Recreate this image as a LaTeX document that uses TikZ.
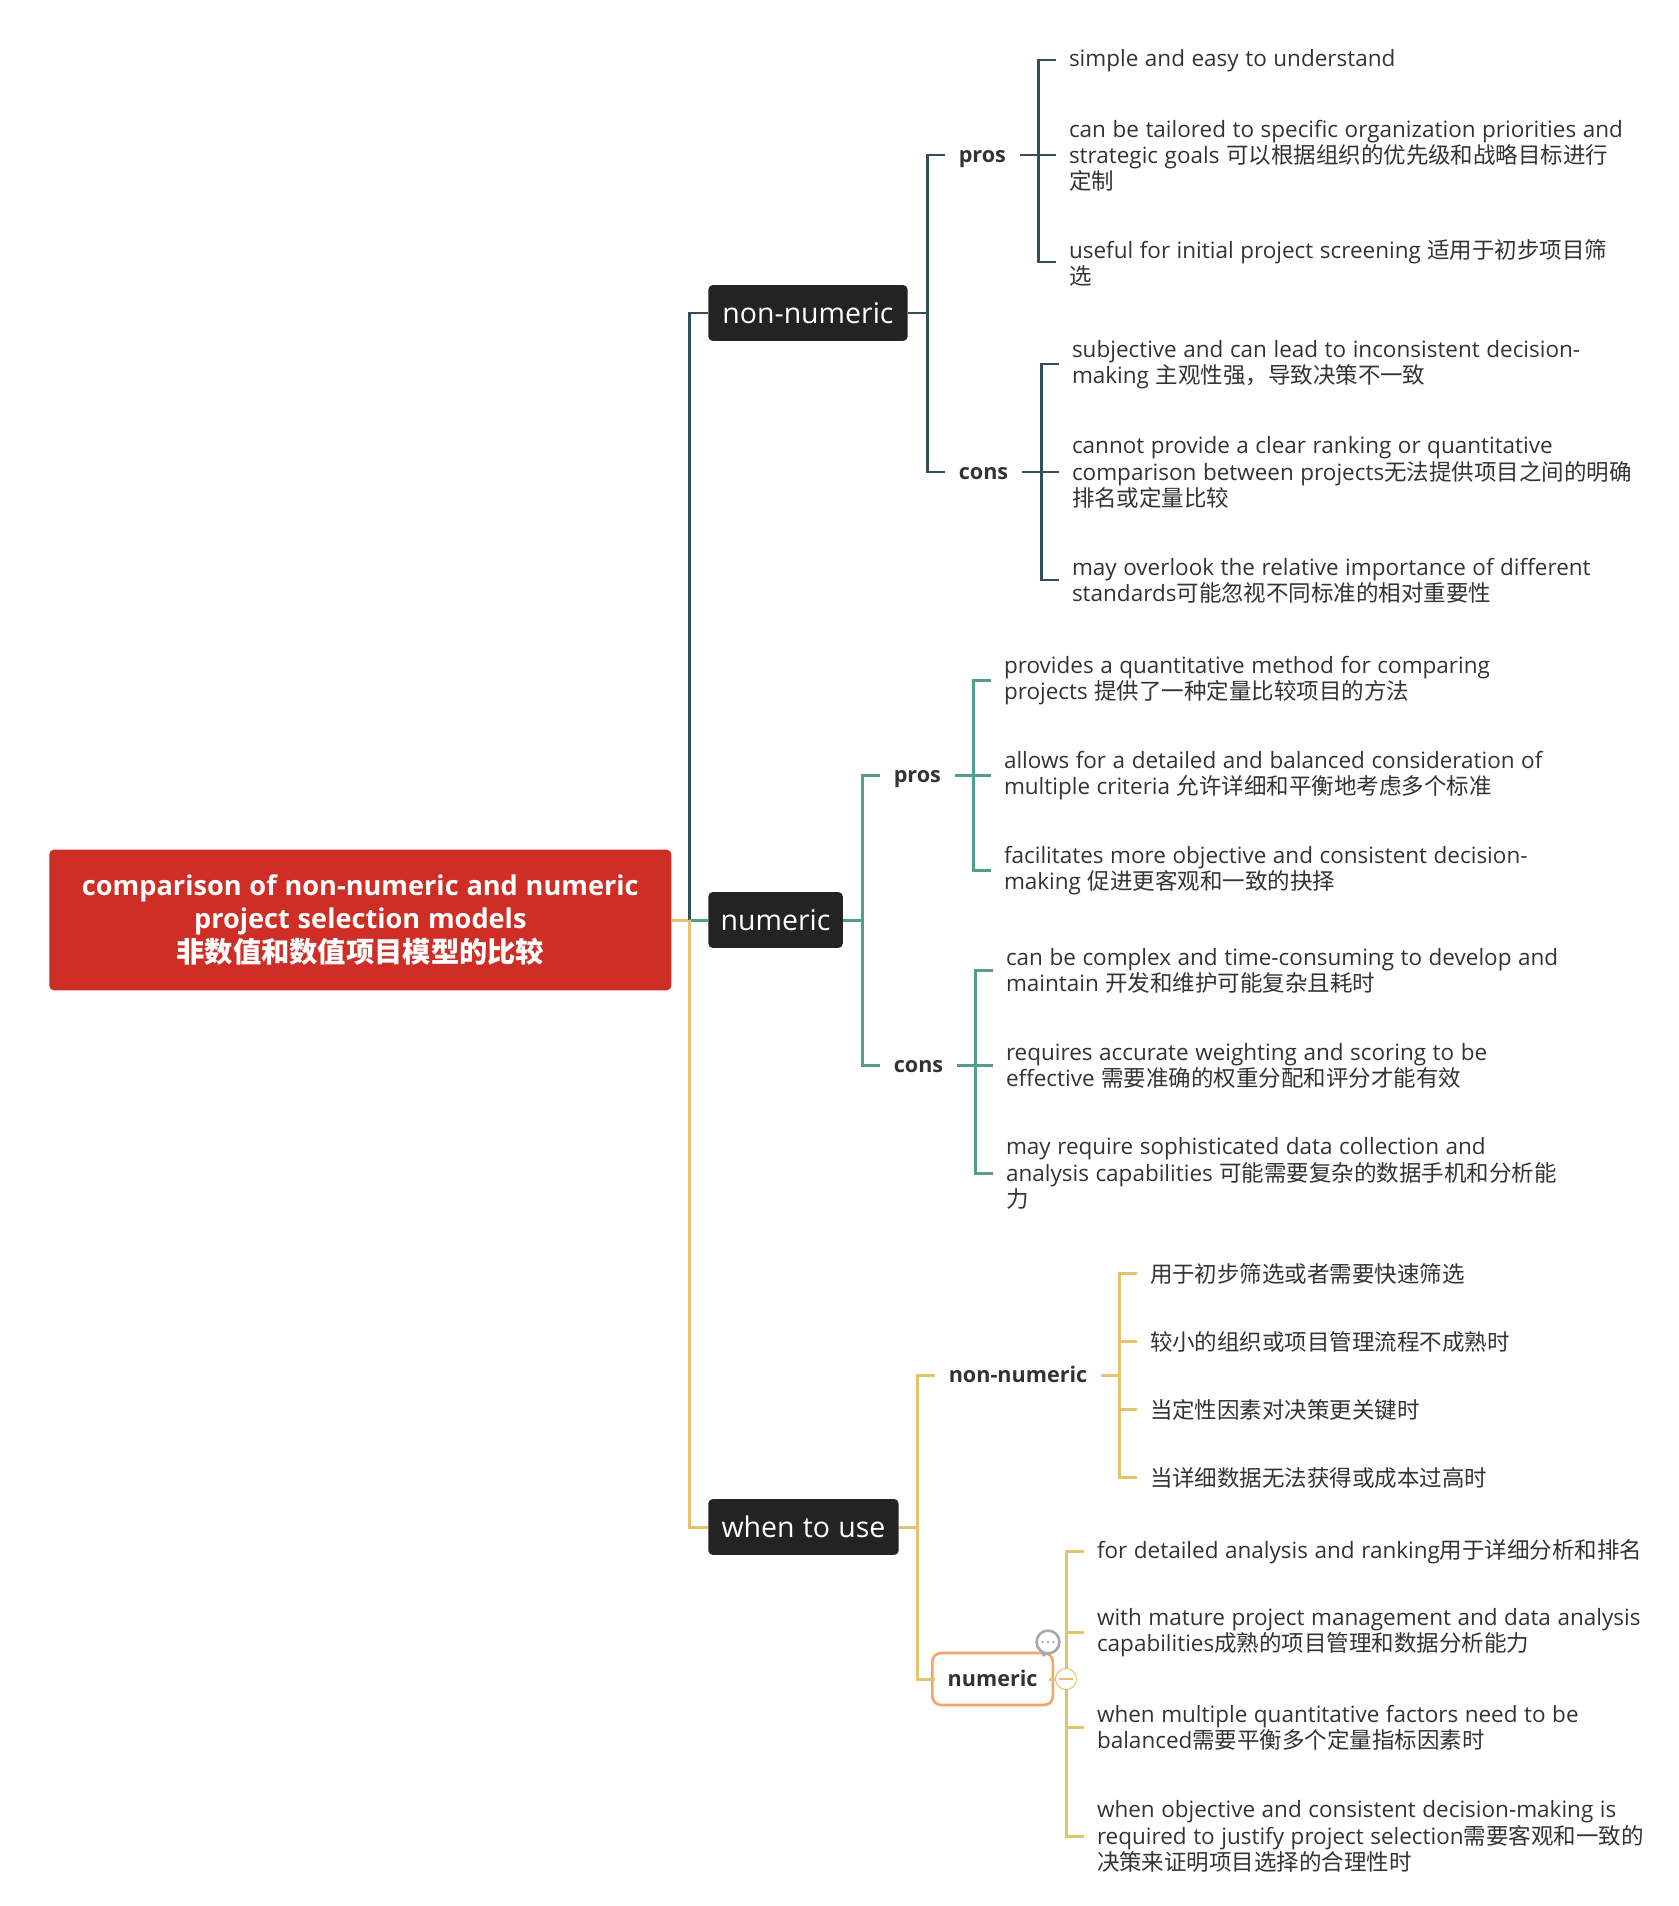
\documentclass[tikz,border=0pt]{standalone}
\usepackage{fontspec}
\setmainfont[WordSpace=1.12]{Open Sans}
\newfontfamily\cjk{Noto Sans CJK SC}
\newfontfamily\heavy[Scale=0.96,WordSpace=1.1]{Open Sans}
\newcommand{\zh}[1]{{\cjk #1}}
\usepackage{tikz}
\tikzset{
  rootNode/.style={anchor=west,fill=mapRed,text=white,rounded corners=2.5pt,minimum width=354pt,minimum height=80pt,align=center,inner sep=0pt,font=\fontsize{16.1}{19.3}\selectfont\heavy\bfseries},
  topicNode/.style={anchor=west,fill=mapBlack,text=white,rounded corners=2.5pt,minimum height=31.8pt,inner xsep=0pt,inner ysep=0pt,font=\fontsize{16.2}{18}\selectfont},
  subNode/.style={anchor=west,text=mapText,inner xsep=7.65pt,inner ysep=0pt,text height=8.4pt,text depth=0pt,font=\fontsize{12.8}{15}\selectfont\heavy\bfseries},
  leafNode/.style={anchor=west,text=mapText,align=left,inner xsep=7.2pt,inner ysep=0pt,yshift=-0.4pt,font=\fontsize{12.8}{15}\selectfont},
  lineDark/.style={draw=mapDark,line width=1.7pt},
  lineTeal/.style={draw=mapTeal,line width=1.7pt},
  lineGold/.style={draw=mapGold,line width=1.7pt}
}
\begin{document}
\begin{tikzpicture}[x=0.02cm,y=-0.02cm]
\definecolor{mapRed}{HTML}{CE2E25}
\definecolor{mapBlack}{HTML}{232323}
\definecolor{mapText}{HTML}{333333}
\definecolor{mapDark}{HTML}{324E5C}
\definecolor{mapTeal}{HTML}{4F9E8E}
\definecolor{mapGold}{HTML}{E5C36E}
\definecolor{mapOrange}{HTML}{F4A468}
\definecolor{mapGray}{HTML}{A8A8A8}
\useasboundingbox (0,0) rectangle (1678,1906);
\node[rootNode] (root) at (49,920) {comparison of non-numeric and numeric\\project selection models\\\zh{非数值和数值项目模型的比较}};
\node[topicNode,minimum width=113.4pt] (nonNum) at (708,313) {non-numeric};
\node[topicNode,minimum width=76.5pt] (numNum) at (708,920) {numeric};
\node[topicNode,minimum width=108.3pt] (useNum) at (708,1527) {when to use};
\coordinate (spineMain) at (689,920);
\draw[lineGold] (root.east) -- (spineMain);
\draw[lineDark] (spineMain) |- (nonNum.west);
\draw[lineTeal] (spineMain) -- (numNum.west);
\draw[lineGold] (spineMain) |- (useNum.west);
\node[subNode] (nonPros) at (945,155) {pros};
\node[subNode] (nonCons) at (945,472) {cons};
\node[subNode] (numPros) at (880,775) {pros};
\node[subNode] (numCons) at (880,1065) {cons};
\node[subNode] (whenNon) at (935,1375) {non-numeric};
\node[subNode,draw=mapOrange,line width=1.5pt,rounded corners=5pt,minimum width=68.6pt,minimum height=29.6pt,inner xsep=0pt,align=center] (whenNum) at (931,1679) {numeric};
\coordinate (spineNon) at (927,313);
\coordinate (spineNum) at (862,920);
\coordinate (spineUse) at (917,1527);
\draw[lineDark] (nonNum.east) -- (spineNon);
\draw[lineDark] (spineNon) |- (nonPros.west);
\draw[lineDark] (spineNon) |- (nonCons.west);
\draw[lineTeal] (numNum.east) -- (spineNum);
\draw[lineTeal] (spineNum) |- (numPros.west);
\draw[lineTeal] (spineNum) |- (numCons.west);
\draw[lineGold] (useNum.east) -- (spineUse);
\draw[lineGold] (spineUse) |- (whenNon.west);
\draw[lineGold,shorten >=-2.3pt] (spineUse) |- (whenNum.west);
\coordinate (forkA) at (1038,155);
\coordinate (forkB) at (1041,472);
\coordinate (forkC) at (973,775);
\coordinate (forkD) at (975,1065);
\coordinate (forkE) at (1119,1375);
\coordinate (forkF) at (1066,1679);
\draw[lineDark] (nonPros.east) -- (forkA);
\foreach \n/\y/\lab in {a/60/{simple and easy to understand},
  b/155/{can be tailored to specific organization priorities and\\strategic goals \zh{可以根据组织的优先级和战略目标进行}\\\zh{定制}},
  c/262/{useful for initial project screening \zh{适用于初步项目筛}\\\zh{选}}} {
  \node[leafNode] (leafA\n) at (1056,\y) {\lab};
  \draw[lineDark] (forkA) |- ([yshift=0.4pt]leafA\n.west);
}
\draw[lineDark] (nonCons.east) -- (forkB);
\foreach \n/\y/\lab in {a/364/{subjective and can lead to inconsistent decision-\\making \zh{主观性强，导致决策不一致}},
  b/472/{cannot provide a clear ranking or quantitative\\comparison between projects\zh{无法提供项目之间的明确}\\\zh{排名或定量比较}},
  c/580/{may overlook the relative importance of different\\standards\zh{可能忽视不同标准的相对重要性}}} {
  \node[leafNode] (leafB\n) at (1059,\y) {\lab};
  \draw[lineDark] (forkB) |- ([yshift=0.4pt]leafB\n.west);
}
\draw[lineTeal] (numPros.east) -- (forkC);
\foreach \n/\y/\lab in {a/680/{provides a quantitative method for comparing\\projects \zh{提供了一种定量比较项目的方法}},
  b/775/{allows for a detailed and balanced consideration of\\multiple criteria \zh{允许详细和平衡地考虑多个标准}},
  c/870/{facilitates more objective and consistent decision-\\making \zh{促进更客观和一致的抉择}}} {
  \node[leafNode] (leafC\n) at (991,\y) {\lab};
  \draw[lineTeal] (forkC) |- ([yshift=0.4pt]leafC\n.west);
}
\draw[lineTeal] (numCons.east) -- (forkD);
\foreach \n/\y/\lab in {a/970/{can be complex and time-consuming to develop and\\maintain \zh{开发和维护可能复杂且耗时}},
  b/1065/{requires accurate weighting and scoring to be\\effective \zh{需要准确的权重分配和评分才能有效}},
  c/1173/{may require sophisticated data collection and\\analysis capabilities \zh{可能需要复杂的数据手机和分析能}\\\zh{力}}} {
  \node[leafNode] (leafD\n) at (993,\y) {\lab};
  \draw[lineTeal] (forkD) |- ([yshift=0.4pt]leafD\n.west);
}
\draw[lineGold] (whenNon.east) -- (forkE);
\foreach \n/\y/\lab in {a/1273/{\zh{用于初步筛选或者需要快速筛选}},
  b/1341/{\zh{较小的组织或项目管理流程不成熟时}},
  c/1409/{\zh{当定性因素对决策更关键时}},
  d/1477/{\zh{当详细数据无法获得或成本过高时}}} {
  \node[leafNode] (leafE\n) at (1137,\y) {\lab};
  \draw[lineGold] (forkE) |- ([yshift=0.4pt]leafE\n.west);
}
\draw[lineGold,shorten <=-2.8pt] (whenNum.east) -- (forkF);
\foreach \n/\y/\lab in {a/1551/{for detailed analysis and ranking\zh{用于详细分析和排名}},
  b/1632/{with mature project management and data analysis\\capabilities\zh{成熟的项目管理和数据分析能力}},
  c/1727/{when multiple quantitative factors need to be\\balanced\zh{需要平衡多个定量指标因素时}},
  d/1836/{when objective and consistent decision-making is\\required to justify project selection\zh{需要客观和一致的}\\\zh{决策来证明项目选择的合理性时}}} {
  \node[leafNode] (leafF\n) at (1084,\y) {\lab};
  \draw[lineGold] (forkF) |- ([yshift=0.4pt]leafF\n.west);
}
\node[circle,draw=mapGold,fill=white,line width=0.6pt,minimum size=12pt,inner sep=0pt] (foldNum) at (forkF) {};
\draw[draw=mapGold,line width=0.6pt] ([xshift=-4pt]foldNum.center) -- ([xshift=4pt]foldNum.center);
\node[circle,draw=mapGray,fill=white,line width=1.5pt,minimum size=13pt,inner sep=0pt] (noteIcon) at (1048,1642) {};
\fill[mapGray] (1040,1651) -- (1048,1654) -- (1043,1657) -- cycle;
\foreach \x in {-5.5,0,5.5} {
  \fill[mapGray] (1048+\x,1642) circle (0.75pt);
}
\end{tikzpicture}
\end{document}
